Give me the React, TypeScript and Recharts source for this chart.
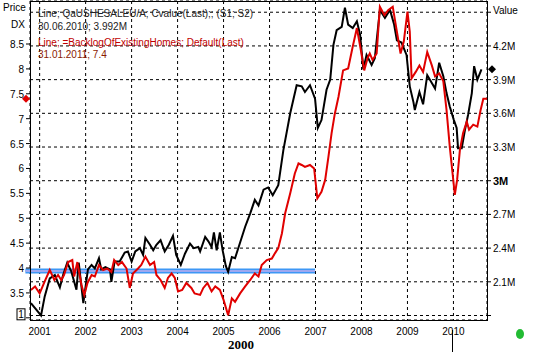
import React from "react";
import {
  LineChart,
  Line,
  XAxis,
  YAxis,
  CartesianGrid,
  ReferenceLine,
  ReferenceDot,
} from "recharts";

// existing home sales (right axis, millions)
const salesYears = [
  2000.81, 2001.03, 2001.11, 2001.22, 2001.33, 2001.44, 2001.51, 2001.6, 2001.69, 2001.8,
  2001.85, 2001.95, 2002.05, 2002.13, 2002.2, 2002.29, 2002.34, 2002.43, 2002.53, 2002.56,
  2002.63, 2002.74, 2002.85, 2002.92, 2003.0, 2003.08, 2003.18, 2003.25, 2003.3, 2003.4,
  2003.47, 2003.54, 2003.63, 2003.72, 2003.81, 2003.9, 2003.97, 2004.07, 2004.16, 2004.27,
  2004.35, 2004.45, 2004.49, 2004.6, 2004.67, 2004.74, 2004.79, 2004.85, 2004.92, 2004.98,
  2005.05, 2005.1, 2005.18, 2005.25, 2005.36, 2005.47, 2005.58, 2005.68, 2005.76, 2005.87,
  2005.97, 2006.07, 2006.19, 2006.3, 2006.45, 2006.59, 2006.7, 2006.77, 2006.88, 2006.99,
  2007.05, 2007.13, 2007.24, 2007.32, 2007.39, 2007.46, 2007.57, 2007.64, 2007.71, 2007.81,
  2007.9, 2007.97, 2008.04, 2008.11, 2008.22, 2008.29, 2008.4, 2008.51, 2008.62, 2008.71,
  2008.77, 2008.87, 2008.98, 2009.05, 2009.13, 2009.16, 2009.26, 2009.34, 2009.43, 2009.53,
  2009.6, 2009.69, 2009.78, 2009.85, 2009.92, 2010.01, 2010.07, 2010.1, 2010.18, 2010.25,
  2010.32, 2010.4, 2010.45, 2010.52, 2010.61,
];
const salesValues = [
  1.91, 1.8, 1.97, 2.13, 2.16, 2.05, 2.16, 2.27, 2.19, 2.03,
  2.27, 1.91, 2.21, 2.25, 2.22, 2.31, 2.21, 2.23, 2.21, 2.1,
  2.28, 2.28, 2.36, 2.37, 2.28, 2.37, 2.4, 2.34, 2.49, 2.43,
  2.38, 2.43, 2.47, 2.37, 2.43, 2.51, 2.34, 2.25, 2.35, 2.44,
  2.4, 2.41, 2.37, 2.5, 2.46, 2.41, 2.54, 2.38, 2.54, 2.38,
  2.24, 2.19, 2.32, 2.31, 2.45, 2.59, 2.71, 2.83, 2.78, 2.92,
  2.94, 2.87, 2.96, 3.27, 3.6, 3.85, 3.84, 3.79, 3.85, 3.73,
  3.47, 3.54, 3.81, 3.9, 4.21, 4.34, 4.37, 4.54, 4.39, 4.36,
  4.42, 4.3, 3.99, 4.12, 4.03, 4.09, 4.52, 4.45, 4.52, 4.39,
  4.25, 4.23, 4.12, 3.84, 3.7, 3.63, 3.79, 3.68, 3.94, 3.87,
  3.82, 4.05, 3.93, 3.78, 3.66, 3.54, 3.47, 3.29, 3.29, 3.45,
  3.59, 3.78, 4.02, 3.9, 3.992,
];

// backlog of existing homes (left axis)
const backlogYears = [
  2000.81, 2000.9, 2001.0, 2001.11, 2001.22, 2001.32, 2001.4, 2001.47, 2001.53, 2001.62,
  2001.71, 2001.75, 2001.82, 2001.91, 2001.97, 2002.04, 2002.13, 2002.2, 2002.29, 2002.38,
  2002.47, 2002.56, 2002.62, 2002.71, 2002.79, 2002.89, 2002.96, 2003.03, 2003.14, 2003.21,
  2003.3, 2003.4, 2003.49, 2003.54, 2003.63, 2003.72, 2003.79, 2003.87, 2003.94, 2004.01,
  2004.1, 2004.19, 2004.3, 2004.37, 2004.49, 2004.56, 2004.65, 2004.74, 2004.82, 2004.92,
  2005.0, 2005.1, 2005.18, 2005.25, 2005.36, 2005.47, 2005.58, 2005.68, 2005.76, 2005.83,
  2005.94, 2006.05, 2006.12, 2006.19, 2006.27, 2006.34, 2006.45, 2006.55, 2006.63, 2006.7,
  2006.77, 2006.88, 2006.97, 2007.04, 2007.13, 2007.21, 2007.28, 2007.35, 2007.42, 2007.5,
  2007.6, 2007.71, 2007.81, 2007.9, 2007.98, 2008.06, 2008.13, 2008.18, 2008.24, 2008.33,
  2008.4, 2008.5, 2008.58, 2008.68, 2008.77, 2008.85, 2008.92, 2009.0, 2009.05, 2009.09,
  2009.18, 2009.26, 2009.34, 2009.43, 2009.53, 2009.6, 2009.69, 2009.78, 2009.85, 2009.92,
  2009.98, 2010.03, 2010.08, 2010.14, 2010.21, 2010.29, 2010.34, 2010.43, 2010.52, 2010.59,
  2010.65, 2010.75,
];
const backlogValues = [
  3.56, 3.63, 3.49, 3.73, 3.96, 3.76, 3.86, 3.76, 3.86, 4.12,
  4.16, 3.83, 4.12, 3.66, 3.46, 3.7, 3.86, 3.83, 4.06, 3.96,
  3.99, 3.92, 4.16, 4.06, 4.12, 3.99, 3.6, 3.89, 3.99, 4.06,
  4.23, 4.06, 4.12, 3.86, 3.76, 3.6, 3.8, 3.89, 3.8, 3.53,
  3.56, 3.7, 3.6, 3.49, 3.46, 3.6, 3.7, 3.53, 3.63, 3.56,
  3.36, 3.05, 3.39, 3.32, 3.49, 3.63, 3.76, 3.89, 3.83, 4.06,
  4.16, 4.19, 4.3, 4.4, 4.7, 5.1, 5.5, 5.9, 6.1, 6.07,
  6.03, 6.07, 6.0, 5.4, 5.53, 5.77, 6.23, 6.71, 7.1, 7.44,
  7.97, 8.01, 8.45, 8.82, 8.41, 7.97, 8.21, 8.31, 8.18, 8.31,
  9.25, 9.08, 9.18, 9.25, 8.75, 8.31, 8.55, 9.15, 8.75, 7.81,
  7.94, 8.07, 7.94, 8.34, 8.07, 7.85, 7.91, 7.75, 7.17, 6.44,
  5.91, 5.47, 5.77, 6.37, 6.71, 6.94, 6.78, 6.88, 6.84, 7.17,
  7.4, 7.4,
];

const yearTicks = [2001, 2002, 2003, 2004, 2005, 2006, 2007, 2008, 2009, 2010];
const leftTicks = [3, 3.5, 4, 4.5, 5, 5.5, 6, 6.5, 7, 7.5, 8, 8.5];
const rightTicks = [1.8, 2.1, 2.4, 2.7, 3.0, 3.3, 3.6, 3.9, 4.2, 4.5];

const supportLevel = 3.94;
const supportEnd = 2006.99;
const lastSales = 3.992;
const lastBacklog = 7.4;

const salesData = salesYears.map((t, i) => ({ t, v: salesValues[i] }));
const backlogData = backlogYears.map((t, i) => ({ t, v: backlogValues[i] }));

const X_MIN = 2000.79;
const X_MAX = 2010.73;
const FONT = "'Liberation Sans', Arial, sans-serif";

const LeftTick = (props: any) => {
  const { x, y, payload } = props;
  if (payload.value === 3) {
    return (
      <g>
        <rect x={x - 7} y={y - 9} width={8} height={11} fill="#fff" stroke="#000" />
        <text x={x - 3} y={y} textAnchor="middle" fontSize={10} fontFamily={FONT} fill="#000">1</text>
      </g>
    );
  }
  return (
    <text x={x} y={y + 4} textAnchor="end" fontSize={10} fontFamily={FONT} fill="#000">
      {String(payload.value)}
    </text>
  );
};

const RightTick = (props: any) => {
  const { x, y, payload } = props;
  const v = payload.value;
  if (v === 1.8) return <g />;
  if (v === 4.5) {
    return (
      <text x={x} y={y + 2} fontSize={10} fontFamily={FONT} fill="#000">Value</text>
    );
  }
  if (v === 3) {
    return (
      <text x={x} y={y + 4} fontSize={11} fontWeight="bold" fontFamily={FONT} fill="#000">3M</text>
    );
  }
  return (
    <text x={x} y={y + 4} fontSize={10} fontFamily={FONT} fill="#000">{v.toFixed(1) + "M"}</text>
  );
};

const Diamond = (dx: number, color: string) => (props: any) => {
  const cx = props.cx + dx;
  const cy = props.cy;
  return <path d={`M${cx},${cy - 4}L${cx + 4},${cy}L${cx},${cy + 4}L${cx - 4},${cy}Z`} fill={color} />;
};

const legendStyle: React.CSSProperties = {
  position: "absolute",
  left: 38,
  fontFamily: FONT,
  fontSize: 10,
  whiteSpace: "nowrap",
  lineHeight: "12px",
};

export default function App() {
  return (
    <div style={{ position: "absolute", left: 0, top: 0, width: 534, height: 355, background: "#fff" }}>
      <LineChart width={534} height={355} data={salesData} margin={{ top: 1, right: 0, left: 0, bottom: 0 }}>
        <CartesianGrid yAxisId="right" stroke="#000" strokeDasharray="3 3" />
        <XAxis
          dataKey="t"
          type="number"
          domain={[X_MIN, X_MAX]}
          allowDataOverflow
          ticks={yearTicks}
          height={35}
          axisLine={false}
          tickLine={false}
          tick={{ fontSize: 10, fill: "#000", fontFamily: FONT }}
        />
        <YAxis
          yAxisId="left"
          orientation="left"
          width={30}
          domain={[2.956, 9.364]}
          allowDataOverflow
          ticks={leftTicks}
          axisLine={false}
          tickSize={4}
          tickMargin={2}
          tickLine={{ stroke: "#000" }}
          tick={LeftTick}
        />
        <YAxis
          yAxisId="right"
          orientation="right"
          width={47}
          domain={[1.76, 4.6]}
          allowDataOverflow
          ticks={rightTicks}
          axisLine={false}
          tickSize={4}
          tickMargin={2}
          tickLine={{ stroke: "#000" }}
          tick={RightTick}
        />
        <ReferenceLine
          yAxisId="left"
          segment={[{ x: X_MIN - 0.1, y: supportLevel }, { x: supportEnd, y: supportLevel }]}
          stroke="#3d97f5"
          strokeWidth={5}
          ifOverflow="visible"
        />
        <ReferenceLine
          yAxisId="left"
          segment={[{ x: X_MIN - 0.1, y: supportLevel }, { x: supportEnd, y: supportLevel }]}
          stroke="#9ea8f0"
          strokeWidth={2}
          ifOverflow="visible"
        />
        <Line
          yAxisId="right"
          data={salesData}
          dataKey="v"
          type="linear"
          stroke="#000"
          strokeWidth={2}
          dot={false}
          isAnimationActive={false}
        />
        <Line
          yAxisId="left"
          data={backlogData}
          dataKey="v"
          type="linear"
          stroke="#e00000"
          strokeWidth={2}
          dot={false}
          isAnimationActive={false}
        />
        <ReferenceDot yAxisId="left" x={X_MIN} y={lastBacklog} ifOverflow="visible" shape={Diamond(-4, "#e00000")} />
        <ReferenceDot yAxisId="right" x={X_MAX} y={lastSales} ifOverflow="visible" shape={Diamond(5, "#000")} />
      </LineChart>

      {/* plot frame */}
      <div style={{ position: "absolute", left: 30, top: 1, width: 458, height: 320, border: "1px solid #000", boxSizing: "border-box", pointerEvents: "none" }} />

      <div style={{ ...legendStyle, top: 8, color: "#222" }}>Line; QaUSHESALEU/A; Cvalue(Last);; (S1; S2)</div>
      <div style={{ ...legendStyle, top: 21, color: "#222" }}>30.06.2010; 3.992M</div>
      <div style={{ ...legendStyle, top: 37, color: "#c00000" }}>Line; =BacklogOfExistingHomes; Default(Last)</div>
      <div style={{ ...legendStyle, top: 49, color: "#8a1a00" }}>31.01.2011; 7.4</div>

      <div style={{ position: "absolute", left: 3, top: 2, fontFamily: FONT, fontSize: 10 }}>Price</div>
      <div style={{ position: "absolute", left: 11, top: 19, fontFamily: FONT, fontSize: 10 }}>DX</div>
      <div style={{ position: "absolute", left: 228, top: 337, fontFamily: "'Liberation Serif', serif", fontSize: 13, fontWeight: "bold" }}>2000</div>
      <div style={{ position: "absolute", left: 452, top: 330, width: 1, height: 22, background: "#000" }} />
      <div style={{ position: "absolute", left: 516, top: 329, width: 8, height: 10, borderRadius: "50%", background: "#22bb33" }} />
    </div>
  );
}
